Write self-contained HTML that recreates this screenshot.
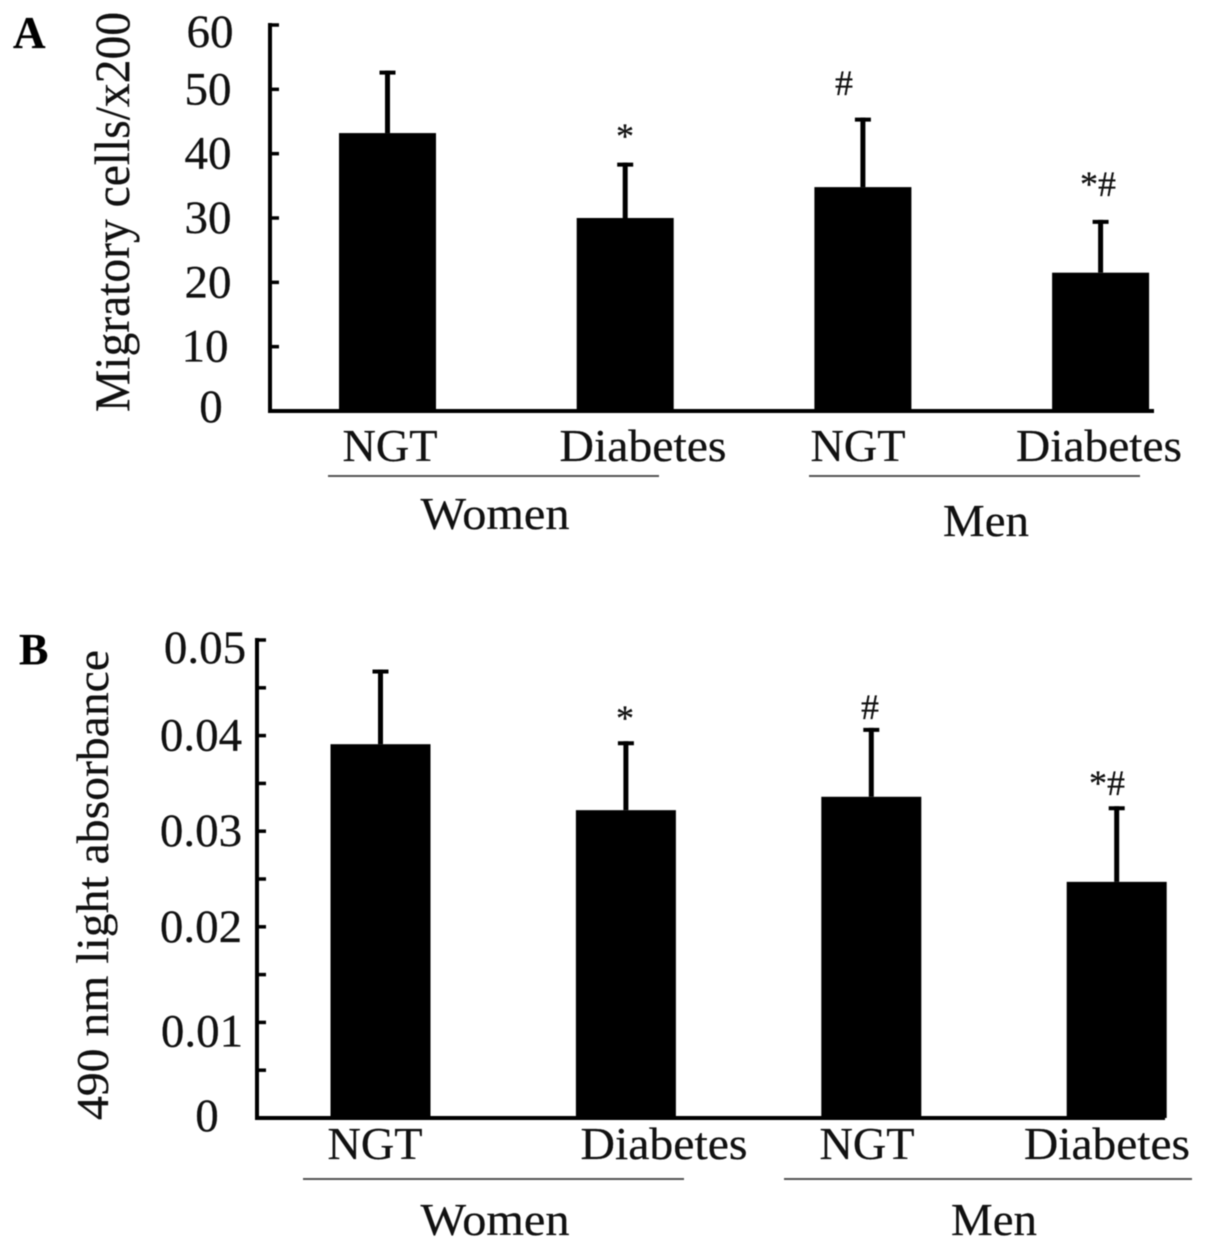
<!DOCTYPE html>
<html lang="en">
<head>
<meta charset="utf-8">
<title>Migratory cells and light absorbance by sex and glucose status</title>
<style>
  html, body { margin: 0; padding: 0; background: #fff; }
  #figure { display: block; width: 1205px; height: 1247px; filter: blur(0.55px); }
  text { font-family: "Liberation Serif", "Times New Roman", serif; fill: #111; stroke: #111; stroke-width: 0.25px; }
</style>
</head>
<body>
<svg id="figure" xmlns="http://www.w3.org/2000/svg" width="1205" height="1247" viewBox="0 0 1205 1247">
  <rect x="0" y="0" width="1205" height="1247" fill="#fff"/>

  <g id="panel-a">
    <text x="13" y="48" font-size="45" font-weight="bold" style="fill:#000">A</text>
    <text transform="translate(129,412) rotate(-90)" font-size="50" textLength="400" lengthAdjust="spacingAndGlyphs">Migratory cells/x200</text>
    <g font-size="46" text-anchor="middle">
      <text x="390" y="461" textLength="95" lengthAdjust="spacingAndGlyphs">NGT</text>
      <text x="643" y="461" textLength="167" lengthAdjust="spacingAndGlyphs">Diabetes</text>
      <text x="858" y="461" textLength="95" lengthAdjust="spacingAndGlyphs">NGT</text>
      <text x="1099" y="461" textLength="166" lengthAdjust="spacingAndGlyphs">Diabetes</text>
      <text x="495" y="529" textLength="149" lengthAdjust="spacingAndGlyphs">Women</text>
      <text x="986" y="536" textLength="86" lengthAdjust="spacingAndGlyphs">Men</text>
    </g>
    <line x1="328" y1="476" x2="659" y2="476" stroke="#555" stroke-width="2"/>
    <line x1="809" y1="476" x2="1140" y2="476" stroke="#555" stroke-width="2"/>
    <g font-size="36" text-anchor="middle">
      <text x="625" y="148">*</text>
      <text x="844" y="95">#</text>
      <text x="1098" y="196">*#</text>
    </g>
  </g>

  <g id="panel-b">
    <text x="19" y="664" font-size="44" font-weight="bold" style="fill:#000">B</text>
    <text transform="translate(108,1120) rotate(-90)" font-size="46" textLength="470" lengthAdjust="spacingAndGlyphs">490 nm light absorbance</text>
    <g font-size="46" text-anchor="middle">
      <text x="375" y="1159" textLength="95" lengthAdjust="spacingAndGlyphs">NGT</text>
      <text x="664" y="1159" textLength="167" lengthAdjust="spacingAndGlyphs">Diabetes</text>
      <text x="867" y="1159" textLength="95" lengthAdjust="spacingAndGlyphs">NGT</text>
      <text x="1107" y="1159" textLength="166" lengthAdjust="spacingAndGlyphs">Diabetes</text>
      <text x="495" y="1235" textLength="149" lengthAdjust="spacingAndGlyphs">Women</text>
      <text x="994" y="1235" textLength="86" lengthAdjust="spacingAndGlyphs">Men</text>
    </g>
    <line x1="303" y1="1179" x2="684" y2="1179" stroke="#555" stroke-width="2"/>
    <line x1="784" y1="1179" x2="1192" y2="1179" stroke="#555" stroke-width="2"/>
    <g font-size="36" text-anchor="middle">
      <text x="625" y="730">*</text>
      <text x="870" y="719">#</text>
      <text x="1107" y="795">*#</text>
    </g>
  </g>
</svg>

<script>
const categories = ['women-ngt', 'women-diabetes', 'men-ngt', 'men-diabetes'];

const migratoryMeans = [43.2, 30.0, 34.8, 21.5];
const migratoryErrorTops = [52.6, 38.3, 45.3, 29.4];
const migratoryTicks = [0, 10, 20, 30, 40, 50, 60];
const migratoryTickLabels = ['0', '10', '20', '30', '40', '50', '60'];

const absorbanceMeans = [0.0391, 0.0322, 0.0336, 0.0247];
const absorbanceErrorTops = [0.0467, 0.0392, 0.0406, 0.0324];
const absorbanceTicks = [0, 0.005, 0.01, 0.015, 0.02, 0.025, 0.03, 0.035, 0.04, 0.045, 0.05];
const absorbanceTickLabels = ['0', '', '0.01', '', '0.02', '', '0.03', '', '0.04', '', '0.05'];

const SVG_NS = 'http://www.w3.org/2000/svg';

function makeLine(parent, x1, y1, x2, y2, width) {
  const el = document.createElementNS(SVG_NS, 'line');
  el.setAttribute('x1', x1);
  el.setAttribute('y1', y1);
  el.setAttribute('x2', x2);
  el.setAttribute('y2', y2);
  el.setAttribute('stroke', '#000');
  el.setAttribute('stroke-width', width);
  parent.appendChild(el);
  return el;
}

function drawPanel(panelId, cfg) {
  const panel = document.getElementById(panelId);
  const yScale = v => cfg.y0 + (cfg.yTop - cfg.y0) * (v / cfg.maxValue);
  const xScale = i => cfg.firstCenter + i * cfg.step;

  cfg.means.forEach((value, i) => {
    const cx = xScale(i);
    const top = yScale(value);

    const bar = document.createElementNS(SVG_NS, 'rect');
    bar.setAttribute('x', cx - cfg.barWidth / 2);
    bar.setAttribute('y', top);
    bar.setAttribute('width', cfg.barWidth);
    bar.setAttribute('height', cfg.y0 - top);
    bar.setAttribute('fill', '#000');
    
    
    panel.appendChild(bar);

    const errTop = yScale(cfg.errorTops[i]);
    const stem = makeLine(panel, cx, top, cx, errTop - 2, 5);
    
    

    const cap = makeLine(panel, cx - 8, errTop, cx + 8, errTop, 4);
    
    
  });

  const yAxis = makeLine(panel, cfg.axisX, cfg.yTop - 2, cfg.axisX, cfg.y0 + 2, 4);
  
  

  const xAxis = makeLine(panel, cfg.axisX - 2, cfg.y0, cfg.axisEnd, cfg.y0, 4);
  
  

  let labelsDrawn = 0;
  cfg.ticks.forEach((tickValue, i) => {
    const ty = yScale(tickValue);
    if (tickValue !== 0) {
      const tick = makeLine(panel, cfg.axisX, ty, cfg.axisX + 9, ty, 3.5);
      
      
    }
    if (cfg.tickLabels[i]) {
      const label = document.createElementNS(SVG_NS, 'text');
      let cy = Math.min(Math.max(ty, cfg.labelMinY), cfg.labelMaxY);
      let dx = 0;
      if (tickValue === 0) dx = cfg.zeroLabelShift;
      if (tickValue === cfg.maxValue) dx = cfg.topLabelShift;
      if (labelsDrawn === 1) {
        dx = cfg.lowLabelShiftX;
        cy += cfg.lowLabelShiftY;
      }
      labelsDrawn += 1;
      label.setAttribute('x', cfg.labelX + dx);
      label.setAttribute('y', cy + 15);
      label.setAttribute('font-size', '47');
      label.setAttribute('text-anchor', 'middle');
      label.textContent = cfg.tickLabels[i];
      
      
      panel.appendChild(label);
    }
  });
}

drawPanel('panel-a', {
  means: migratoryMeans,
  errorTops: migratoryErrorTops,
  ticks: migratoryTicks,
  tickLabels: migratoryTickLabels,
  maxValue: 60,
  y0: 411,
  yTop: 25,
  axisX: 270,
  axisEnd: 1154,
  firstCenter: 387.5,
  step: 237.7,
  barWidth: 97,
  labelX: 208,
  labelMinY: 32,
  labelMaxY: 407,
  zeroLabelShift: 3,
  topLabelShift: 2,
  lowLabelShiftX: -3,
  lowLabelShiftY: 0
});

drawPanel('panel-b', {
  means: absorbanceMeans,
  errorTops: absorbanceErrorTops,
  ticks: absorbanceTicks,
  tickLabels: absorbanceTickLabels,
  maxValue: 0.05,
  y0: 1118,
  yTop: 640,
  axisX: 257,
  axisEnd: 1165,
  firstCenter: 380.5,
  step: 245.4,
  barWidth: 100,
  labelX: 201,
  labelMinY: 648,
  labelMaxY: 1116,
  zeroLabelShift: 6,
  topLabelShift: 4,
  lowLabelShiftX: 1,
  lowLabelShiftY: 9
});
</script>
</body>
</html>
